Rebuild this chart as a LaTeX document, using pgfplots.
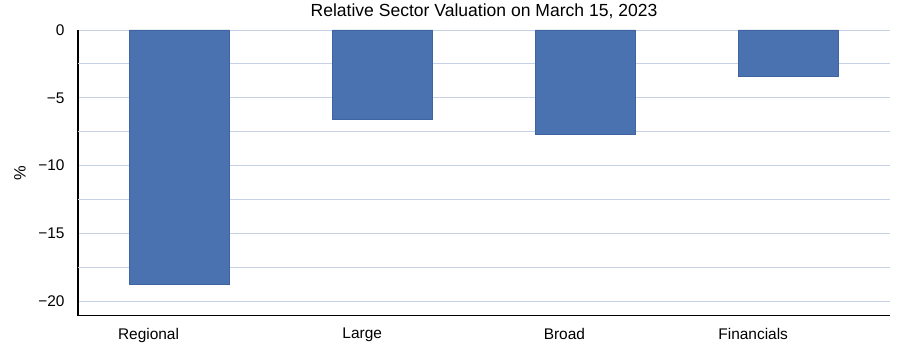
\documentclass[border=0pt]{standalone}
\usepackage{fontspec}
\setmainfont{Liberation Sans}
\usepackage{pgfplots}
\pgfplotsset{compat=1.18}
\definecolor{barblue}{HTML}{4A72B0}
\definecolor{baredge}{HTML}{3F64A0}
\definecolor{gridc}{HTML}{C8D2E6}
\begin{document}
\begin{tikzpicture}
\path[use as bounding box] (-78bp,-42.3bp) rectangle (822bp,315.7bp);
\begin{axis}[
  scale only axis,
  width=812bp, height=285.7bp,
  at={(0,0)}, anchor=south west,
  xmin=-0.5, xmax=3.5,
  ymin=-21.07, ymax=0,
  xtick={0,1,2,3},
  xticklabels={Regional,Large,Broad,Financials},
  ytick={0,-5,-10,-15,-20},
  yticklabels={0,\textminus5,\textminus10,\textminus15,\textminus20},
  extra y ticks={-2.5,-7.5,-12.5,-17.5},
  extra y tick labels={},
  extra y tick style={grid=major, major grid style={gridc, line width=0.8pt}},
  ymajorgrids, major grid style={gridc, line width=0.8pt},
  axis x line*=bottom, axis y line*=left,
  axis line style={black, line width=1.1pt, -},
  tick style={draw=none},
  major tick length=0pt,
  ticklabel style={font=\fontsize{15.5}{18}\selectfont},
  xticklabel style={anchor=north east, yshift=-9bp, xshift=3bp},
  yticklabel style={xshift=-10bp},
  ylabel={\%},
  ylabel style={font=\fontsize{16.5}{18}\selectfont, at={(axis description cs:-0.0714,0.5)}, anchor=center},
  title={Relative Sector Valuation on March 15, 2023},
  title style={font=\fontsize{17.6}{20}\selectfont, at={(axis description cs:0.5,1)}, anchor=base, yshift=8bp},
  ybar, bar width=100bp,
  clip=false,
]
\addplot[fill=barblue, draw=baredge, line width=0.6pt] coordinates {(0,-18.77) (1,-6.57) (2,-7.70) (3,-3.42)};
\end{axis}
\end{tikzpicture}
\end{document}
